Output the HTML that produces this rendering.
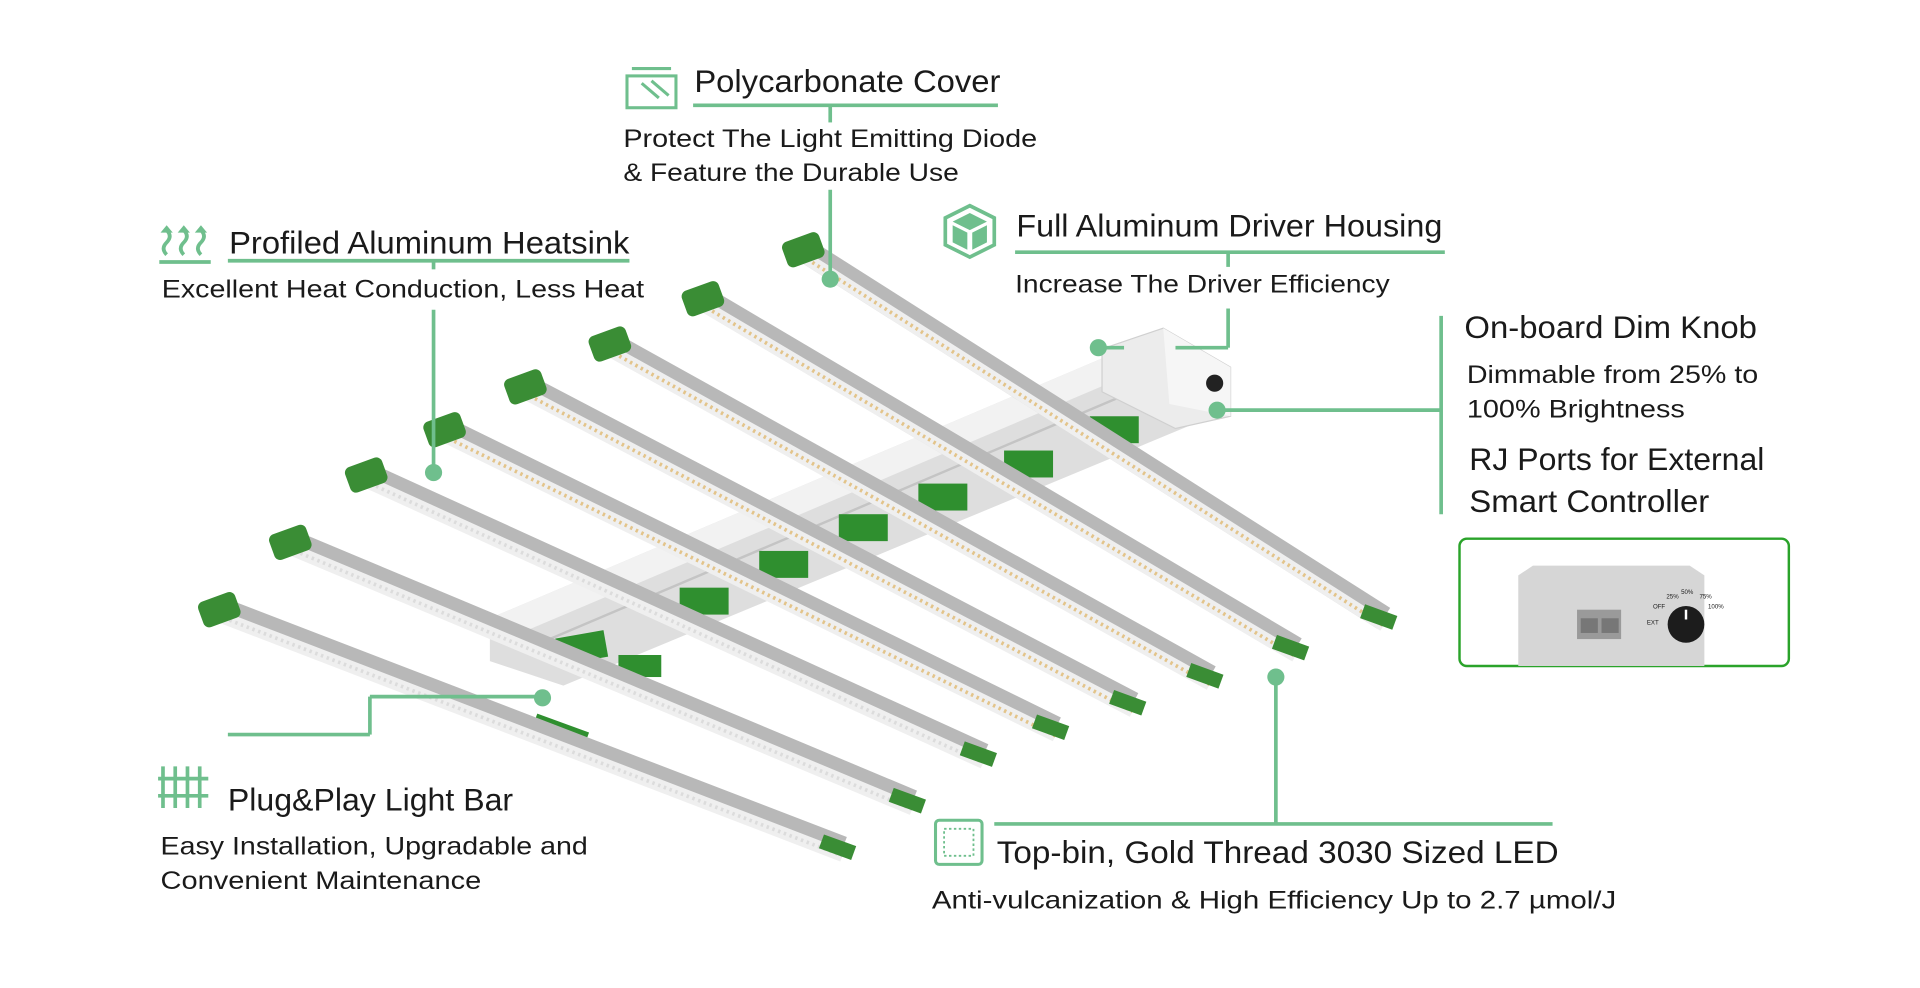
<!DOCTYPE html>
<html><head><meta charset="utf-8"><style>
html,body{margin:0;padding:0;background:#fff;}
svg{display:block;}
text{font-family:"Liberation Sans",sans-serif;fill:#1a1a1a;}
.h{font-size:26px;}
.s{font-size:20.5px;}
.ln{stroke:#6fbf8d;stroke-width:3;fill:none;}
.dot{fill:#6fbf8d;}
</style></head><body>
<svg width="1920" height="988" viewBox="0 0 1568 807" xmlns="http://www.w3.org/2000/svg">
<!-- rail -->
<g>
<polygon points="400,505 930,280 990,300 990,340 460,560 400,540" fill="#dedede"/>
<polygon points="400,505 930,280 960,290 430,515" fill="#f2f2f2"/>
<line x1="430" y1="530" x2="960" y2="305" stroke="#c4c4c4" stroke-width="2"/>
<polygon points="900,285 950,268 1005,300 1005,340 960,350 900,320" fill="#ececec" stroke="#d0d0d0"/>
<polygon points="950,268 1005,300 1005,340 955,330" fill="#f6f6f6"/>
<circle cx="992" cy="313" r="7" fill="#222"/>
<g fill="#2f8f2f">
<rect x="455" y="518" width="40" height="22" transform="rotate(-10 475 529)"/>
<rect x="505" y="535" width="35" height="18"/>
<rect x="555" y="480" width="40" height="22"/>
<rect x="620" y="450" width="40" height="22"/>
<rect x="685" y="420" width="40" height="22"/>
<rect x="750" y="395" width="40" height="22"/>
<rect x="820" y="368" width="40" height="22"/>
<rect x="890" y="340" width="40" height="22"/>
<rect x="435" y="590" width="45" height="14" transform="rotate(20 457 597)"/>
</g>
</g>
<g>
<g>
<line x1="655" y1="203" x2="1130" y2="505" stroke="#b8b8b8" stroke-width="20"/>
<line x1="655" y1="209" x2="1130" y2="511" stroke="#efefef" stroke-width="10"/>
<line x1="655" y1="209" x2="1130" y2="511" stroke="#e3c48a" stroke-width="3" stroke-dasharray="2 3"/>
<rect x="640" y="193" width="32" height="22" rx="5" fill="#3a8d35" transform="rotate(-20 656 204)"/>
<rect x="1112" y="498" width="28" height="12" fill="#3a8d35" transform="rotate(20 1126 504)"/>
</g>
<g>
<line x1="573" y1="243" x2="1058" y2="530" stroke="#b8b8b8" stroke-width="20"/>
<line x1="573" y1="249" x2="1058" y2="536" stroke="#efefef" stroke-width="10"/>
<line x1="573" y1="249" x2="1058" y2="536" stroke="#e3c48a" stroke-width="3" stroke-dasharray="2 3"/>
<rect x="558" y="233" width="32" height="22" rx="5" fill="#3a8d35" transform="rotate(-20 574 244)"/>
<rect x="1040" y="523" width="28" height="12" fill="#3a8d35" transform="rotate(20 1054 529)"/>
</g>
<g>
<line x1="497" y1="280" x2="988" y2="553" stroke="#b8b8b8" stroke-width="20"/>
<line x1="497" y1="286" x2="988" y2="559" stroke="#efefef" stroke-width="10"/>
<line x1="497" y1="286" x2="988" y2="559" stroke="#e3c48a" stroke-width="3" stroke-dasharray="2 3"/>
<rect x="482" y="270" width="32" height="22" rx="5" fill="#3a8d35" transform="rotate(-20 498 281)"/>
<rect x="970" y="546" width="28" height="12" fill="#3a8d35" transform="rotate(20 984 552)"/>
</g>
<g>
<line x1="428" y1="315" x2="925" y2="575" stroke="#b8b8b8" stroke-width="20"/>
<line x1="428" y1="321" x2="925" y2="581" stroke="#efefef" stroke-width="10"/>
<line x1="428" y1="321" x2="925" y2="581" stroke="#e3c48a" stroke-width="3" stroke-dasharray="2 3"/>
<rect x="413" y="305" width="32" height="22" rx="5" fill="#3a8d35" transform="rotate(-20 429 316)"/>
<rect x="907" y="568" width="28" height="12" fill="#3a8d35" transform="rotate(20 921 574)"/>
</g>
<g>
<line x1="362" y1="350" x2="862" y2="595" stroke="#b8b8b8" stroke-width="20"/>
<line x1="362" y1="356" x2="862" y2="601" stroke="#efefef" stroke-width="10"/>
<line x1="362" y1="356" x2="862" y2="601" stroke="#e3c48a" stroke-width="3" stroke-dasharray="2 3"/>
<rect x="347" y="340" width="32" height="22" rx="5" fill="#3a8d35" transform="rotate(-20 363 351)"/>
<rect x="844" y="588" width="28" height="12" fill="#3a8d35" transform="rotate(20 858 594)"/>
</g>
<g>
<line x1="298" y1="387" x2="803" y2="617" stroke="#b8b8b8" stroke-width="20"/>
<line x1="298" y1="393" x2="803" y2="623" stroke="#efefef" stroke-width="10"/>
<line x1="298" y1="393" x2="803" y2="623" stroke="#dcdcdc" stroke-width="3" stroke-dasharray="2 3"/>
<rect x="283" y="377" width="32" height="22" rx="5" fill="#3a8d35" transform="rotate(-20 299 388)"/>
<rect x="785" y="610" width="28" height="12" fill="#3a8d35" transform="rotate(20 799 616)"/>
</g>
<g>
<line x1="236" y1="442" x2="745" y2="655" stroke="#b8b8b8" stroke-width="20"/>
<line x1="236" y1="448" x2="745" y2="661" stroke="#efefef" stroke-width="10"/>
<line x1="236" y1="448" x2="745" y2="661" stroke="#dcdcdc" stroke-width="3" stroke-dasharray="2 3"/>
<rect x="221" y="432" width="32" height="22" rx="5" fill="#3a8d35" transform="rotate(-20 237 443)"/>
<rect x="727" y="648" width="28" height="12" fill="#3a8d35" transform="rotate(20 741 654)"/>
</g>
<g>
<line x1="178" y1="497" x2="688" y2="693" stroke="#b8b8b8" stroke-width="20"/>
<line x1="178" y1="503" x2="688" y2="699" stroke="#efefef" stroke-width="10"/>
<line x1="178" y1="503" x2="688" y2="699" stroke="#dcdcdc" stroke-width="3" stroke-dasharray="2 3"/>
<rect x="163" y="487" width="32" height="22" rx="5" fill="#3a8d35" transform="rotate(-20 179 498)"/>
<rect x="670" y="686" width="28" height="12" fill="#3a8d35" transform="rotate(20 684 692)"/>
</g>
</g>

<g fill="none" stroke="#6fbf8d" stroke-width="2.5">
<rect x="512" y="62" width="40" height="26"/><path d="M516 56 H548"/><path d="M524 68 l14 12 M532 66 l14 12"/>
</g>
<text class="h" x="567" y="75" textLength="250" lengthAdjust="spacingAndGlyphs">Polycarbonate Cover</text>
<line class="ln" x1="566" y1="86" x2="815" y2="86"/>
<line class="ln" x1="678" y1="86" x2="678" y2="100"/>
<line class="ln" x1="678" y1="155" x2="678" y2="228"/>
<circle class="dot" cx="678" cy="228" r="7"/>
<text class="s" x="509" y="120" textLength="338" lengthAdjust="spacingAndGlyphs">Protect The Light Emitting Diode</text>
<text class="s" x="509" y="148" textLength="274" lengthAdjust="spacingAndGlyphs">&amp; Feature the Durable Use</text>

<g fill="none" stroke="#6fbf8d" stroke-width="3">
<path d="M136 208 q-5 -5 0 -10 q5 -5 0 -10 M150 208 q-5 -5 0 -10 q5 -5 0 -10 M164 208 q-5 -5 0 -10 q5 -5 0 -10"/>
<path d="M130 214 H172"/>
</g>
<g fill="#6fbf8d"><path d="M136 184 l-5 6 h10z M150 184 l-5 6 h10z M164 184 l-5 6 h10z"/></g>
<text class="h" x="187" y="207" textLength="327" lengthAdjust="spacingAndGlyphs">Profiled Aluminum Heatsink</text>
<line class="ln" x1="186" y1="213" x2="514" y2="213"/>
<line class="ln" x1="354" y1="213" x2="354" y2="220"/>
<line class="ln" x1="354" y1="253" x2="354" y2="386"/>
<circle class="dot" cx="354" cy="386" r="7"/>
<text class="s" x="132" y="243" textLength="394" lengthAdjust="spacingAndGlyphs">Excellent Heat Conduction, Less Heat</text>

<polygon points="792,168 812,178 812,200 792,210 772,200 772,178" fill="none" stroke="#6fbf8d" stroke-width="3"/>
<polygon points="792,174 806,181 792,188 778,181" fill="#6fbf8d"/>
<polygon points="778,184 790,190 790,204 778,198" fill="#6fbf8d"/>
<polygon points="806,184 794,190 794,204 806,198" fill="#6fbf8d"/>
<text class="h" x="830" y="193" textLength="348" lengthAdjust="spacingAndGlyphs">Full Aluminum Driver Housing</text>
<line class="ln" x1="829" y1="206" x2="1180" y2="206"/>
<line class="ln" x1="1003" y1="206" x2="1003" y2="218"/>
<line class="ln" x1="1003" y1="252" x2="1003" y2="284"/>
<line class="ln" x1="1003" y1="284" x2="960" y2="284"/>
<line class="ln" x1="897" y1="284" x2="918" y2="284"/>
<circle class="dot" cx="897" cy="284" r="7"/>
<text class="s" x="829" y="239" textLength="306" lengthAdjust="spacingAndGlyphs">Increase The Driver Efficiency</text>

<line class="ln" x1="1177" y1="258" x2="1177" y2="420"/>
<line class="ln" x1="994" y1="335" x2="1177" y2="335"/>
<circle class="dot" cx="994" cy="335" r="7"/>
<text class="h" x="1196" y="276" textLength="239" lengthAdjust="spacingAndGlyphs">On-board Dim Knob</text>
<text class="s" x="1198" y="313" textLength="238" lengthAdjust="spacingAndGlyphs">Dimmable from 25% to</text>
<text class="s" x="1198" y="341" textLength="178" lengthAdjust="spacingAndGlyphs">100% Brightness</text>
<text class="h" x="1200" y="384" textLength="241" lengthAdjust="spacingAndGlyphs">RJ Ports for External</text>
<text class="h" x="1200" y="418" textLength="196" lengthAdjust="spacingAndGlyphs">Smart Controller</text>
<rect x="1192" y="440" width="269" height="104" rx="6" fill="#fff" stroke="#2aa32a" stroke-width="2"/>
<polygon points="1240,470 1252,462 1380,462 1392,470 1392,544 1240,544" fill="#d6d6d6"/>
<rect x="1288" y="498" width="36" height="24" fill="#9a9a9a"/>
<rect x="1291" y="505" width="14" height="12" fill="#777"/><rect x="1308" y="505" width="14" height="12" fill="#777"/>
<circle cx="1377" cy="510" r="15" fill="#1c1c1c"/>
<line x1="1377" y1="498" x2="1377" y2="506" stroke="#fff" stroke-width="2"/>
<g fill="#333"><text x="1345" y="510" style="font-size:5px">EXT</text><text x="1350" y="497" style="font-size:5px">OFF</text><text x="1361" y="489" style="font-size:5px">25%</text><text x="1373" y="485" style="font-size:5px">50%</text><text x="1388" y="489" style="font-size:5px">75%</text><text x="1395" y="497" style="font-size:5px">100%</text></g>

<g stroke="#6fbf8d" stroke-width="3"><path d="M133 626 V660 M143 626 V660 M153 626 V660 M163 626 V660 M129 636 H170 M129 650 H170"/></g>
<text class="h" x="186" y="662" textLength="233" lengthAdjust="spacingAndGlyphs">Plug&amp;Play Light Bar</text>
<line class="ln" x1="302" y1="569" x2="302" y2="600"/>
<line class="ln" x1="186" y1="600" x2="302" y2="600"/>
<line class="ln" x1="302" y1="569" x2="443" y2="569"/>
<circle class="dot" cx="443" cy="570" r="7"/>
<text class="s" x="131" y="698" textLength="349" lengthAdjust="spacingAndGlyphs">Easy Installation, Upgradable and</text>
<text class="s" x="131" y="726" textLength="262" lengthAdjust="spacingAndGlyphs">Convenient Maintenance</text>

<rect x="764" y="670" width="38" height="36" rx="3" fill="none" stroke="#6fbf8d" stroke-width="2.5"/>
<rect x="771" y="677" width="24" height="22" fill="none" stroke="#6fbf8d" stroke-width="1.5" stroke-dasharray="2 2"/>
<text class="h" x="814" y="705" textLength="459" lengthAdjust="spacingAndGlyphs">Top-bin, Gold Thread 3030 Sized LED</text>
<line class="ln" x1="812" y1="673" x2="1268" y2="673"/>
<line class="ln" x1="1042" y1="553" x2="1042" y2="673"/>
<circle class="dot" cx="1042" cy="553" r="7"/>
<text class="s" x="761" y="742" textLength="559" lengthAdjust="spacingAndGlyphs">Anti-vulcanization &amp; High Efficiency Up to 2.7 µmol/J</text>
</svg>
</body></html>
